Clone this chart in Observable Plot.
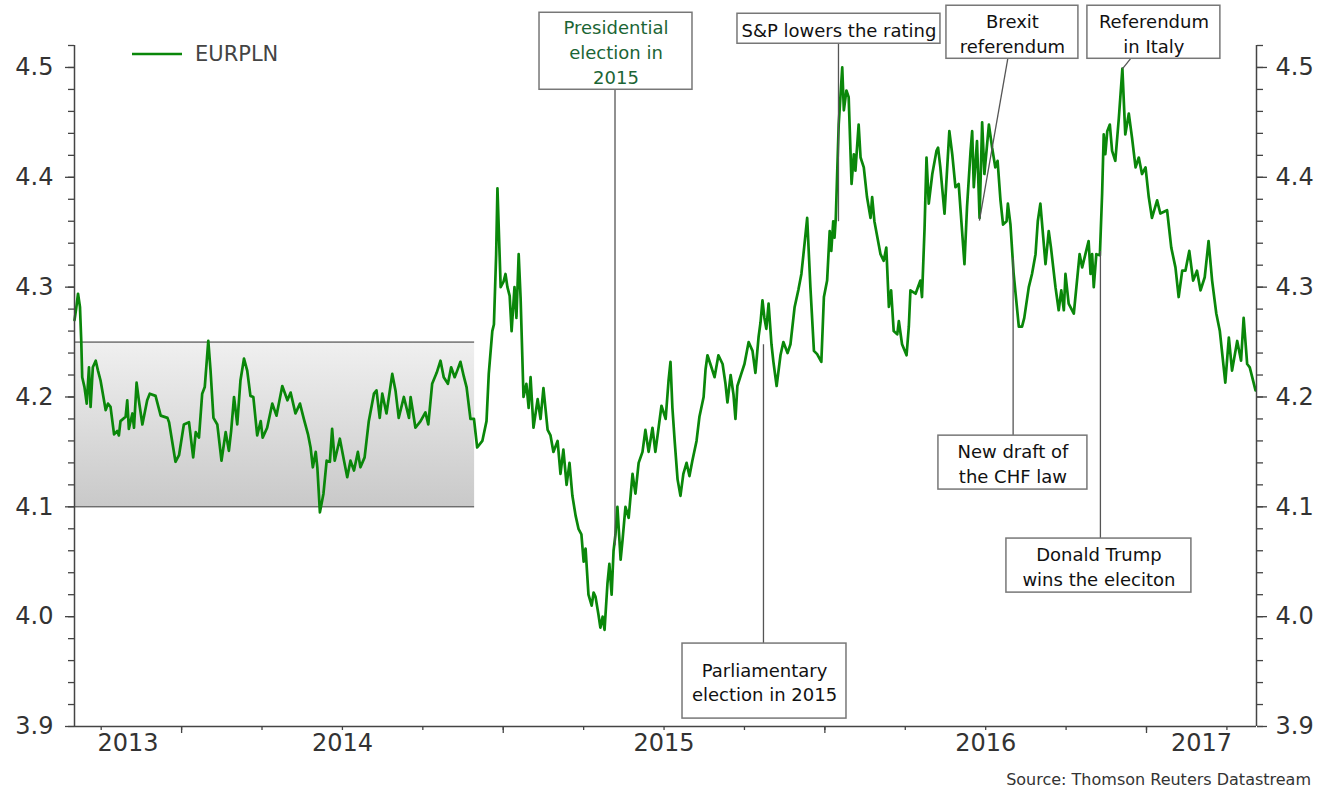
<!DOCTYPE html>
<html><head><meta charset="utf-8">
<script src="https://cdn.jsdelivr.net/npm/d3@7"></script>
<script src="https://cdn.jsdelivr.net/npm/@observablehq/plot@0.6"></script>
<style>
body{margin:0;background:#fff;font-family:"DejaVu Sans",sans-serif;}
#wrap{position:relative;width:1319px;height:790px;}
#legend{position:absolute;left:132px;top:42px;height:24px;display:flex;align-items:center;font-size:21px;color:#444;}
#source{position:absolute;right:8px;top:770px;font-size:16px;color:#333;}
</style></head><body>
<div id="wrap"><div id="chart"></div>
<div id="legend"><svg width="50" height="4"><line x1="0" x2="50" y1="2" y2="2" stroke="#0a870a" stroke-width="2.6"/></svg><span style="margin-left:13px">EURPLN</span></div>
<div id="source">Source: Thomson Reuters Datastream</div></div>
<script>
// decimal years and EURPLN values
const years = [
2013.667,2013.672,2013.678,2013.684,2013.688,2013.691,2013.698,2013.705,2013.712,2013.717,2013.724,2013.733,2013.740,2013.748,2013.764,2013.771,2013.779,2013.790,2013.800,2013.805,2013.810,2013.826,2013.831,2013.836,2013.847,2013.852,2013.860,2013.867,2013.878,2013.893,2013.901,2013.919,2013.935,2013.956,2013.961,2013.981,2013.992,
2014.007,2014.023,2014.036,2014.044,2014.054,2014.064,2014.072,2014.083,2014.090,2014.099,2014.111,2014.124,2014.137,2014.147,2014.154,2014.163,2014.173,2014.183,2014.194,2014.204,2014.214,2014.223,2014.235,2014.246,2014.252,2014.266,2014.282,2014.295,2014.313,2014.329,2014.339,2014.354,2014.368,2014.380,2014.393,2014.401,2014.408,2014.417,2014.422,2014.430,2014.441,2014.451,2014.461,2014.468,2014.476,2014.492,2014.505,2014.515,2014.525,2014.536,2014.548,2014.556,2014.569,2014.582,2014.598,2014.606,2014.616,2014.624,2014.637,2014.655,2014.665,2014.675,2014.691,2014.707,2014.712,2014.727,2014.743,2014.758,2014.767,2014.779,2014.793,2014.805,2014.815,2014.828,2014.838,2014.849,2014.857,2014.867,2014.878,2014.886,2014.898,2014.909,2014.919,2014.935,2014.948,2014.955,2014.966,2014.971,2014.978,2014.982,2014.992,
2015.001,2015.007,2015.013,2015.020,2015.026,2015.035,2015.041,2015.048,2015.054,2015.063,2015.072,2015.079,2015.085,2015.094,2015.107,2015.116,2015.125,2015.138,2015.147,2015.156,2015.169,2015.178,2015.187,2015.197,2015.206,2015.215,2015.225,2015.234,2015.243,2015.250,2015.256,2015.265,2015.275,2015.281,2015.287,2015.296,2015.302,2015.309,2015.315,2015.324,2015.330,2015.337,2015.343,2015.349,2015.355,2015.365,2015.371,2015.380,2015.390,2015.402,2015.411,2015.421,2015.433,2015.442,2015.452,2015.464,2015.473,2015.483,2015.492,2015.505,2015.514,2015.520,2015.526,2015.533,2015.542,2015.551,2015.560,2015.570,2015.579,2015.588,2015.601,2015.610,2015.623,2015.629,2015.635,2015.644,2015.657,2015.669,2015.682,2015.691,2015.697,2015.707,2015.716,2015.722,2015.728,2015.741,2015.750,2015.763,2015.775,2015.784,2015.794,2015.800,2015.806,2015.812,2015.818,2015.825,2015.834,2015.840,2015.850,2015.862,2015.871,2015.884,2015.893,2015.906,2015.918,2015.927,2015.937,2015.945,2015.955,2015.966,2015.976,2015.989,2015.997,
2016.007,2016.015,2016.020,2016.026,2016.030,2016.034,2016.043,2016.054,2016.059,2016.067,2016.074,2016.083,2016.090,2016.095,2016.105,2016.111,2016.121,2016.131,2016.142,2016.147,2016.154,2016.173,2016.183,2016.191,2016.199,2016.206,2016.214,2016.225,2016.230,2016.240,2016.254,2016.261,2016.266,2016.282,2016.297,2016.302,2016.310,2016.316,2016.323,2016.334,2016.347,2016.352,2016.359,2016.372,2016.387,2016.396,2016.406,2016.416,2016.434,2016.442,2016.453,2016.458,2016.463,2016.473,2016.481,2016.489,2016.496,2016.510,2016.520,2016.530,2016.537,2016.546,2016.554,2016.565,2016.569,2016.577,2016.587,2016.603,2016.613,2016.620,2016.634,2016.644,2016.655,2016.662,2016.670,2016.686,2016.696,2016.703,2016.717,2016.727,2016.735,2016.743,2016.748,2016.758,2016.774,2016.782,2016.792,2016.800,2016.810,2016.820,2016.826,2016.831,2016.836,2016.844,2016.855,2016.862,2016.867,2016.872,2016.878,2016.886,2016.893,2016.903,2016.914,2016.925,2016.934,2016.945,2016.955,2016.966,2016.976,2016.986,2016.997,
2017.007,2017.017,2017.033,2017.043,2017.064,2017.077,2017.090,2017.100,2017.111,2017.121,2017.133,2017.145,2017.157,2017.168,2017.181,2017.193,2017.204,2017.217,2017.228,2017.245,2017.256,2017.266,2017.282,2017.294,2017.302,2017.313,2017.321,2017.339
];
const eurpln = [
4.270,4.280,4.294,4.282,4.251,4.218,4.209,4.194,4.227,4.191,4.227,4.233,4.224,4.215,4.188,4.194,4.191,4.166,4.169,4.165,4.178,4.182,4.197,4.171,4.185,4.172,4.213,4.197,4.175,4.197,4.203,4.201,4.183,4.181,4.177,4.141,4.147,
4.175,4.177,4.145,4.168,4.163,4.203,4.209,4.251,4.224,4.181,4.175,4.142,4.168,4.151,4.169,4.200,4.175,4.215,4.235,4.224,4.201,4.200,4.165,4.178,4.163,4.172,4.194,4.183,4.210,4.197,4.204,4.185,4.194,4.180,4.166,4.154,4.136,4.150,4.136,4.095,4.112,4.142,4.141,4.171,4.142,4.162,4.142,4.127,4.142,4.133,4.150,4.136,4.145,4.178,4.203,4.206,4.181,4.203,4.185,4.221,4.206,4.181,4.200,4.181,4.200,4.172,4.178,4.186,4.175,4.212,4.222,4.233,4.218,4.212,4.227,4.218,4.224,4.232,4.218,4.209,4.180,4.180,4.154,4.160,4.178,4.221,4.260,4.266,4.330,4.390,4.300,
4.305,4.312,4.300,4.292,4.260,4.300,4.272,4.330,4.290,4.200,4.212,4.190,4.218,4.172,4.198,4.180,4.208,4.170,4.165,4.150,4.160,4.130,4.152,4.120,4.140,4.110,4.092,4.080,4.075,4.050,4.062,4.020,4.010,4.022,4.018,4.002,3.990,4.000,3.988,4.030,4.048,4.020,4.060,4.075,4.100,4.052,4.070,4.100,4.090,4.130,4.112,4.140,4.150,4.170,4.150,4.172,4.150,4.172,4.192,4.180,4.215,4.232,4.190,4.160,4.125,4.110,4.130,4.140,4.128,4.142,4.160,4.182,4.200,4.225,4.238,4.230,4.218,4.238,4.230,4.212,4.195,4.220,4.202,4.180,4.210,4.222,4.230,4.250,4.242,4.222,4.255,4.268,4.288,4.272,4.262,4.285,4.248,4.232,4.210,4.238,4.250,4.240,4.248,4.282,4.298,4.312,4.340,4.363,4.300,4.242,4.239,4.232,4.291,
4.306,4.351,4.333,4.360,4.345,4.363,4.448,4.500,4.461,4.479,4.473,4.394,4.421,4.406,4.448,4.418,4.409,4.382,4.363,4.382,4.360,4.330,4.324,4.336,4.282,4.297,4.260,4.257,4.269,4.248,4.238,4.264,4.297,4.294,4.306,4.291,4.354,4.418,4.376,4.403,4.424,4.427,4.409,4.367,4.442,4.421,4.391,4.394,4.321,4.373,4.424,4.442,4.391,4.433,4.363,4.450,4.403,4.448,4.427,4.409,4.415,4.379,4.357,4.360,4.376,4.357,4.312,4.264,4.264,4.272,4.300,4.312,4.330,4.360,4.376,4.321,4.351,4.336,4.300,4.279,4.297,4.279,4.312,4.285,4.276,4.300,4.330,4.318,4.330,4.342,4.312,4.330,4.300,4.330,4.329,4.385,4.439,4.421,4.442,4.448,4.424,4.415,4.454,4.499,4.439,4.458,4.436,4.409,4.418,4.403,4.409,
4.382,4.363,4.379,4.367,4.370,4.336,4.318,4.291,4.315,4.315,4.333,4.306,4.315,4.297,4.309,4.342,4.306,4.276,4.260,4.213,4.254,4.224,4.251,4.233,4.272,4.230,4.227,4.206
];
const yearLabels = ["2013","2014","2015","2016","2017"];
const yMajor = [3.9,4.0,4.1,4.2,4.3,4.4,4.5];
const rangeBand = {from: 2013.667, to: 2014.911, low: 4.10, high: 4.25};

// annotation layout (anchors in data units)
const annotations = [
 {label:"Presidential\nelection in\n2015", color:"#1b6535", bx1:2015.1128, bx2:2015.5884, by1:4.4797, by2:4.5498, lx1:2015.3475, ly1:4.4797, lx2:2015.3475, ly2:4.065},
 {label:"S&P lowers the rating", color:"#111", bx1:2015.7283, bx2:2016.3594, by1:4.5216, by2:4.5489, lx1:2016.0423, ly1:4.5216, lx2:2016.0423, ly2:4.36},
 {label:"Brexit\nreferendum", color:"#111", bx1:2016.3780, bx2:2016.7883, by1:4.5079, by2:4.5562, lx1:2016.5686, ly1:4.5079, lx2:2016.4806, ly2:4.3605},
 {label:"Referendum\nin Italy", color:"#111", bx1:2016.8163, bx2:2017.2297, by1:4.5079, by2:4.5562, lx1:2016.950, ly1:4.5079, lx2:2016.925, ly2:4.4988},
 {label:"New draft of\nthe CHF law", color:"#111", bx1:2016.3531, bx2:2016.8163, by1:4.1157, by2:4.1648, lx1:2016.5853, ly1:4.1648, lx2:2016.5853, ly2:4.327},
 {label:"Donald Trump\nwins the eleciton", color:"#111", bx1:2016.5645, bx2:2017.1396, by1:4.0219, by2:4.0711, lx1:2016.8567, ly1:4.0711, lx2:2016.8567, ly2:4.333},
 {label:"Parliamentary\nelection in 2015", color:"#111", bx1:2015.5574, bx2:2016.0672, by1:3.9072, by2:3.9755, lx1:2015.8091, ly1:3.9755, lx2:2015.8091, ly2:4.248}
];

const data = years.map((t, i) => ({t, v: eurpln[i]}));
const xDomain = [2013.667, 2017.342];
const yDomain = [3.9, 4.52];
const yMinor = d3.range(3.9, 4.521, 0.02).map(d => +d.toFixed(2));
const quarterTicks = d3.range(2013.75, xDomain[1], 0.25);
const yearTicks = [2014, 2015, 2016, 2017];
const yearPos = yearLabels.map(y => {
  const a = Math.max(+y, xDomain[0]), b = Math.min(+y + 1, xDomain[1]);
  return {label: y, t: (a + b) / 2};
});
const axisColor = "#444";

const svg = Plot.plot({
  width: 1319, height: 766,
  marginLeft: 74, marginRight: 63, marginTop: 45, marginBottom: 40,
  style: {fontFamily: "DejaVu Sans, sans-serif", fontSize: "24px", color: "#333", background: "white"},
  x: {type: "linear", domain: xDomain},
  y: {domain: yDomain},
  marks: [
    Plot.rect([rangeBand], {x1: "from", x2: "to", y1: "low", y2: "high", fill: "url(#bandGrad)"}),
    Plot.ruleY([rangeBand.low, rangeBand.high], {x1: rangeBand.from, x2: rangeBand.to, stroke: "#333", strokeWidth: 1}),
    Plot.line(data, {x: "t", y: "v", stroke: "#0a870a", strokeWidth: 2.7}),
    Plot.link(annotations, {x1: "lx1", y1: "ly1", x2: "lx2", y2: "ly2", stroke: "#555", strokeWidth: 1.3}),
    Plot.rect(annotations, {x1: "bx1", x2: "bx2", y1: "by1", y2: "by2", fill: "white", stroke: "#777", strokeWidth: 1.5}),
    Plot.text(annotations, {x: d => (d.bx1 + d.bx2) / 2, y: d => (d.by1 + d.by2) / 2, text: "label", fill: "color", fontSize: 18, lineHeight: 1.38}),
    Plot.ruleX([xDomain[0], xDomain[1]], {stroke: axisColor, strokeWidth: 1.5}),
    Plot.ruleY([yDomain[0]], {stroke: axisColor, strokeWidth: 1.5}),
    Plot.axisY({anchor: "left", ticks: yMajor, tickSize: 9, tickPadding: 12, tickFormat: d3.format(".1f"), label: null, stroke: axisColor, strokeWidth: 1.3}),
    Plot.axisY({anchor: "left", ticks: yMinor, tickSize: 6, tickFormat: () => "", label: null, stroke: axisColor, strokeWidth: 1.3}),
    Plot.axisY({anchor: "right", ticks: yMajor, tickSize: 10, tickPadding: 9, tickFormat: d3.format(".1f"), label: null, stroke: axisColor, strokeWidth: 1.3}),
    Plot.axisY({anchor: "right", ticks: yMinor, tickSize: 6, tickFormat: () => "", label: null, stroke: axisColor, strokeWidth: 1.3}),
    Plot.axisX({ticks: quarterTicks, tickSize: 4, tickFormat: () => "", label: null, stroke: axisColor, strokeWidth: 1.3}),
    Plot.axisX({ticks: yearTicks, tickSize: 7, tickFormat: () => "", label: null, stroke: axisColor, strokeWidth: 1.3}),
    Plot.text(yearPos, {x: "t", text: "label", frameAnchor: "bottom", dy: 24, fontSize: 24, fill: "#333"})
  ]
});

const defs = d3.select(svg).insert("defs", ":first-child");
const g = defs.append("linearGradient").attr("id", "bandGrad").attr("x1", 0).attr("x2", 0).attr("y1", 0).attr("y2", 1);
g.append("stop").attr("offset", "0%").attr("stop-color", "#f0f0f0");
g.append("stop").attr("offset", "100%").attr("stop-color", "#c9c9c9");

document.getElementById("chart").appendChild(svg);
</script>
</body></html>
